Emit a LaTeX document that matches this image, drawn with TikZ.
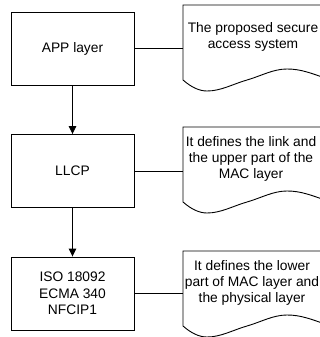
\documentclass[tikz,border=0pt]{standalone}
\usepackage{fontspec}
\setmainfont{Liberation Sans}
\usetikzlibrary{arrows.meta}
\begin{document}
\begin{tikzpicture}[x=1pt,y=-1pt,line width=0.9pt,
  layerbox/.style={draw,rectangle,minimum width=123pt,minimum height=73pt,
    inner sep=0pt,align=center,font=\fontsize{13.8}{16.5}\selectfont},
  doctext/.style={align=center,inner sep=0pt,font=\fontsize{13.8}{16}\selectfont},
  flow/.style={-{Triangle[length=8pt,width=7.5pt]}},
  link/.style={}]
  \useasboundingbox (0,0) rectangle (320,337);
  \clip (0,0) rectangle (320,337);

  % layer boxes
  \node[layerbox] (app)  at (72.5,48.5)  {APP layer};
  \node[layerbox] (llcp) at (72.5,171)   {LLCP};
  \node[layerbox] (phy)  at (72.5,293.5) {ISO 18092\\ECMA 340\\NFCIP1};

  % document shapes with a wavy lower edge
  \newcommand{\docshape}[2]{%
    \draw (#1,#2+75) -- (#1,#2) -- (#1+150,#2)
      (#1,#2+75) .. controls (#1+8,#2+82) and (#1+16,#2+86) .. (#1+24,#2+86)
      .. controls (#1+38,#2+86) and (#1+50,#2+79) .. (#1+64,#2+75)
      .. controls (#1+78,#2+71) and (#1+90,#2+64) .. (#1+104,#2+64)
      .. controls (#1+118,#2+64) and (#1+128,#2+68) .. (#1+150,#2+76);}
  \docshape{183}{5}
  \docshape{183}{127}
  \docshape{183}{251}

  \coordinate (d1) at (183,48.5);
  \coordinate (d2) at (183,171);
  \coordinate (d3) at (183,293.5);

  \node[doctext] (t1) at (253,37) {The proposed secure\\access system};
  \node[doctext] (t2) at (251,159) {It defines the link and\\the upper part of the\\MAC layer};
  \node[doctext] (t3) at (252,283) {It defines the lower\\part of MAC layer and\\the physical layer};

  % connectors
  \draw[flow] (app) -- (llcp);
  \draw[flow] (llcp) -- (phy);
  \draw[link] (app.east) -- (d1);
  \draw[link] (llcp.east) -- (d2);
  \draw[link] (phy.east) -- (d3);
\end{tikzpicture}
\end{document}
